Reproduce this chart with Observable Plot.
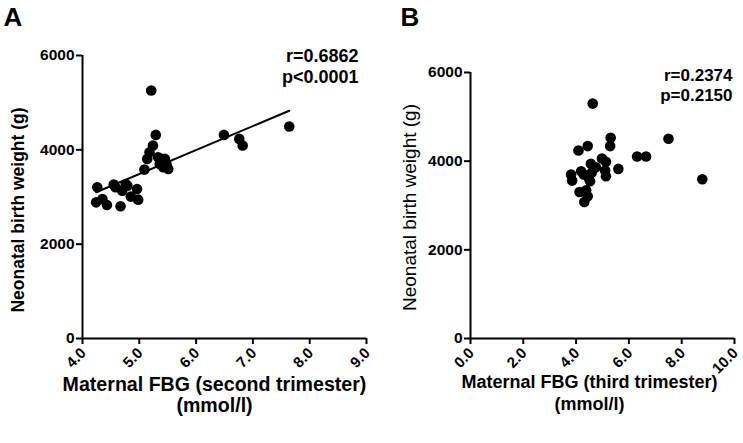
<!DOCTYPE html>
<html><head><meta charset="utf-8">
<script src="https://cdn.jsdelivr.net/npm/d3@7"></script>
<script src="https://cdn.jsdelivr.net/npm/@observablehq/plot@0.6"></script>
<style>
body{margin:0;background:#fff;}
#wrap{position:relative;width:743px;height:443px;overflow:hidden;}
#wrap svg{position:absolute;top:0;overflow:visible;}
</style></head><body><div id="wrap"></div>
<script>
// Panel A: second trimester FBG (mmol/l) vs neonatal birth weight (g)
const fbgSecond = [5.21,4.26,4.24,4.35,4.43,4.55,4.58,4.67,4.70,4.76,4.79,4.85,4.96,4.98,5.09,5.14,5.18,5.24,5.29,5.33,5.39,5.45,5.36,5.42,5.48,5.51,6.49,6.76,6.82,7.64];
const weightSecond = [5258,3206,2887,2958,2831,3263,3206,2803,3135,3277,3241,3008,3171,2944,3581,3808,3949,4091,4317,3843,3808,3808,3701,3631,3687,3595,4317,4232,4091,4494];
// Panel B: third trimester FBG (mmol/l) vs neonatal birth weight (g)
const fbgThird = [4.63,3.81,3.85,4.09,4.44,4.19,4.13,4.38,4.31,4.44,4.29,4.48,4.56,4.59,4.75,4.53,4.98,5.13,5.10,5.13,5.31,5.29,5.60,6.31,6.65,7.50,8.78];
const weightThird = [5298,3698,3562,4242,4340,3774,3306,3343,3079,3208,3698,3623,3940,3736,3864,3547,4060,3985,3789,3660,4528,4340,3826,4106,4106,4506,3592];
const weightTicks = [0,2000,4000,6000];
const secondTicks = [4,5,6,7,8,9];
const thirdTicks = [0,2,4,6,8,10];
const statsA = ["r=0.6862","p<0.0001"];
const statsB = ["r=0.2374","p=0.2150"];

const FONT = "'Liberation Sans', Arial, Helvetica, sans-serif";
const baseStyle = {fontFamily: FONT, fontSize: "15px", fontWeight: "bold", color: "#000", background: "transparent", overflow: "visible"};
const wrap = document.getElementById("wrap");
const fmtX = d3.format(".1f");

const dataA = fbgSecond.map((x, i) => ({x, y: weightSecond[i]}));
const dataB = fbgThird.map((x, i) => ({x, y: weightThird[i]}));

function axes(xTicks) {
  return [
    Plot.axisY({ticks: weightTicks, tickSize: 6, tickFormat: () => "", strokeWidth: 2, label: null}),
    Plot.axisX({ticks: xTicks, tickSize: 6, tickFormat: () => "", strokeWidth: 2, label: null}),
    Plot.text(weightTicks, {y: d => d, text: d => String(d), frameAnchor: "left", textAnchor: "end", lineAnchor: "middle", dx: -8, fontSize: 15.5, fontWeight: "bold"}),
    Plot.text(xTicks, {x: d => d, text: d => fmtX(d), frameAnchor: "bottom", textAnchor: "end", lineAnchor: "middle", rotate: -45, dx: 1, dy: 12, fontSize: 15, fontWeight: "bold"}),
    Plot.ruleX([xTicks[0]], {strokeWidth: 2}),
    Plot.ruleY([0], {strokeWidth: 2})
  ];
}

const plotA = Plot.plot({
  width: 380, height: 443,
  marginLeft: 82, marginRight: 14, marginTop: 55, marginBottom: 105,
  style: baseStyle,
  x: {domain: [4, 9], axis: null},
  y: {domain: [0, 6000], axis: null},
  marks: [
    ...axes(secondTicks),
    Plot.linearRegressionY(dataA, {x: "x", y: "y", ci: 0, stroke: "#000", strokeWidth: 2}),
    Plot.dot(dataA, {x: "x", y: "y", r: 5.3, fill: "#000", stroke: null}),
    Plot.text([statsA.join("\n")], {text: d => d, frameAnchor: "top-right", textAnchor: "end", lineAnchor: "top", dx: -8, dy: -9, fontSize: 18, lineHeight: 1.2}),
    Plot.text(["Neonatal birth weight (g)"], {text: d => d, frameAnchor: "left", textAnchor: "middle", lineAnchor: "middle", rotate: -90, dx: -64, dy: 13, fontSize: 17.5}),
    Plot.text(["Maternal FBG (second trimester)\n(mmol/l)"], {text: d => d, frameAnchor: "bottom", textAnchor: "middle", lineAnchor: "bottom", dx: -10, dy: 73, fontSize: 19.6, lineHeight: 1.07}),
    Plot.text(["A"], {text: d => d, frameAnchor: "top-left", textAnchor: "start", lineAnchor: "top", dx: -79, dy: -48, fontSize: 26})
  ]
});
plotA.style.left = "0px";
wrap.appendChild(plotA);

const plotB = Plot.plot({
  width: 363, height: 443,
  marginLeft: 90, marginRight: 9, marginTop: 72, marginBottom: 105,
  style: baseStyle,
  x: {domain: [0, 10], axis: null},
  y: {domain: [0, 6000], axis: null},
  marks: [
    ...axes(thirdTicks),
    Plot.dot(dataB, {x: "x", y: "y", r: 5.3, fill: "#000", stroke: null}),
    Plot.text([statsB.join("\n")], {text: d => d, frameAnchor: "top-right", textAnchor: "end", lineAnchor: "top", dx: -2, dy: -6, fontSize: 17, lineHeight: 1.2}),
    Plot.text(["Neonatal birth weight (g)"], {text: d => d, frameAnchor: "left", textAnchor: "middle", lineAnchor: "middle", rotate: -90, dx: -61, dy: 2, fontSize: 19, fontWeight: "normal"}),
    Plot.text(["Maternal FBG (third trimester)\n(mmol/l)"], {text: d => d, frameAnchor: "bottom", textAnchor: "middle", lineAnchor: "bottom", dx: -13, dy: 71, fontSize: 18, lineHeight: 1.17}),
    Plot.text(["B"], {text: d => d, frameAnchor: "top-left", textAnchor: "start", lineAnchor: "top", dx: -70, dy: -65, fontSize: 26})
  ]
});
plotB.style.left = "380px";
wrap.appendChild(plotB);
</script>
</body></html>
